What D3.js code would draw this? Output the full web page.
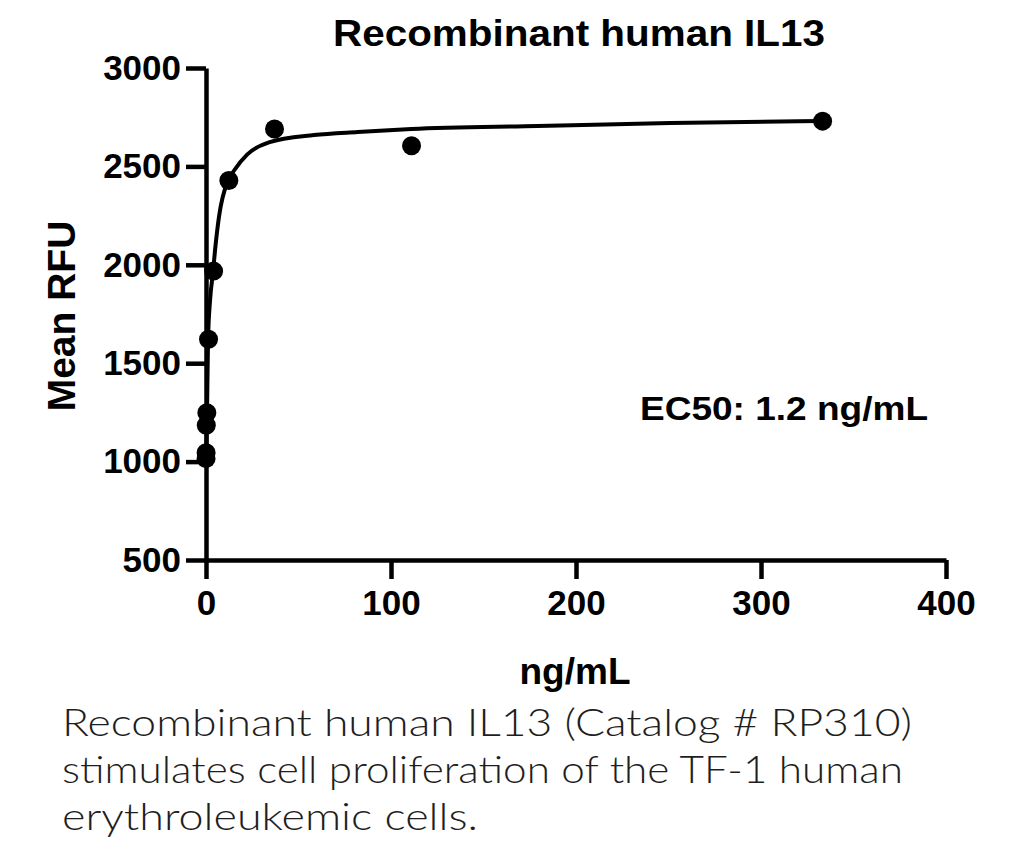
<!DOCTYPE html>
<html>
<head>
<meta charset="utf-8">
<script src="https://cdn.jsdelivr.net/npm/d3@7"></script>
<style>
  body { margin: 0; background: #fff; }
  svg text { font-family: "Liberation Sans", Arial, sans-serif; font-weight: bold; fill: #000; }
  .caption { font-family: Lato, "Noto Sans", sans-serif; font-weight: 300; fill: #1e1e1e; }
</style>
</head>
<body>
<svg id="chart" width="1024" height="842"></svg>
<script>
// measured points (ng/mL, mean RFU), 3-fold dilution series
var doses = [333.3, 111.1, 37.04, 12.35, 4.115, 1.372, 0.457, 0.152, 0.0508, 0.0169];
var rfu   = [2730, 2605, 2690, 2428, 1968, 1622, 1248, 1185, 1045, 1015];

// fitted curve
var fitX = [0, 0.5, 1.1, 2.2, 3.8, 4.9, 7, 12, 15.1, 22.2, 34, 58.4, 82, 111, 179, 251, 333.3];
var fitY = [1000, 1210, 1620, 1820, 1965, 2075, 2243, 2430, 2478, 2560, 2622, 2659, 2675, 2690, 2705, 2720, 2731];

var xTicks = [0, 100, 200, 300, 400];
var yTicks = [500, 1000, 1500, 2000, 2500, 3000];

var captionLines = [
    "Recombinant human IL13 (Catalog # RP310)",
    "stimulates cell proliferation of the TF-1 human",
    "erythroleukemic cells."
];

var svg = d3.select("#chart");

var x = d3.scaleLinear().domain([0, 400]).range([206, 946]);
var y = d3.scaleLinear().domain([500, 3000]).range([560, 68]);

var xAxis = d3.axisBottom(x).tickValues(xTicks).tickFormat(d3.format("d"))
    .tickSize(19).tickSizeOuter(0).tickPadding(11);
var yAxis = d3.axisLeft(y).tickValues(yTicks).tickFormat(d3.format("d"))
    .tickSize(20).tickSizeOuter(0).tickPadding(5);

var gx = svg.append("g").attr("transform", "translate(0," + y(500) + ")").call(xAxis);
var gy = svg.append("g").attr("transform", "translate(" + x(0) + ",0)").call(yAxis);

[gx, gy].forEach(function(g){
    g.select(".domain").attr("stroke", "#000").attr("stroke-width", 4.5);
    g.selectAll(".tick line").attr("stroke", "#000").attr("stroke-width", 4.5);
    g.selectAll(".tick text").attr("font-size", 35).attr("font-family", null).attr("fill", "#000");
});

// fitted line
var line = d3.line()
    .x(function(d){ return x(d[0]); })
    .y(function(d){ return y(d[1]); })
    .curve(d3.curveMonotoneX);

svg.append("path")
    .datum(fitX.map(function(v, i){ return [v, fitY[i]]; }))
    .attr("d", line)
    .attr("fill", "none")
    .attr("stroke", "#000")
    .attr("stroke-width", 4);

svg.append("g").selectAll("circle")
    .data(doses.map(function(v, i){ return [v, rfu[i]]; }))
    .enter().append("circle")
    .attr("cx", function(d){ return x(d[0]); })
    .attr("cy", function(d){ return y(d[1]); })
    .attr("r", 9.5)
    .attr("fill", "#000");

// titles
svg.append("text")
    .attr("x", 579).attr("y", 46)
    .attr("text-anchor", "middle")
    .attr("font-size", 36)
    .attr("textLength", 492).attr("lengthAdjust", "spacingAndGlyphs")
    .text("Recombinant human IL13");

svg.append("text")
    .attr("x", 575).attr("y", 684)
    .attr("text-anchor", "middle")
    .attr("font-size", 37)
    .text("ng/mL");

svg.append("text")
    .attr("transform", "translate(75,316) rotate(-90)")
    .attr("text-anchor", "middle")
    .attr("font-size", 39)
    .text("Mean RFU");

svg.append("text")
    .attr("x", 640).attr("y", 420)
    .attr("font-size", 33)
    .attr("textLength", 288).attr("lengthAdjust", "spacingAndGlyphs")
    .text("EC50: 1.2 ng/mL");

// caption under the chart
var capWidths = [850, 841, 416];
svg.append("g").selectAll("text")
    .data(captionLines)
    .enter().append("text")
    .attr("class", "caption")
    .attr("x", 62)
    .attr("y", function(d, i){ return 736 + i * 47; })
    .attr("font-size", 38)
    .attr("textLength", function(d, i){ return capWidths[i]; })
    .attr("lengthAdjust", "spacingAndGlyphs")
    .text(function(d){ return d; });
</script>
</body>
</html>
